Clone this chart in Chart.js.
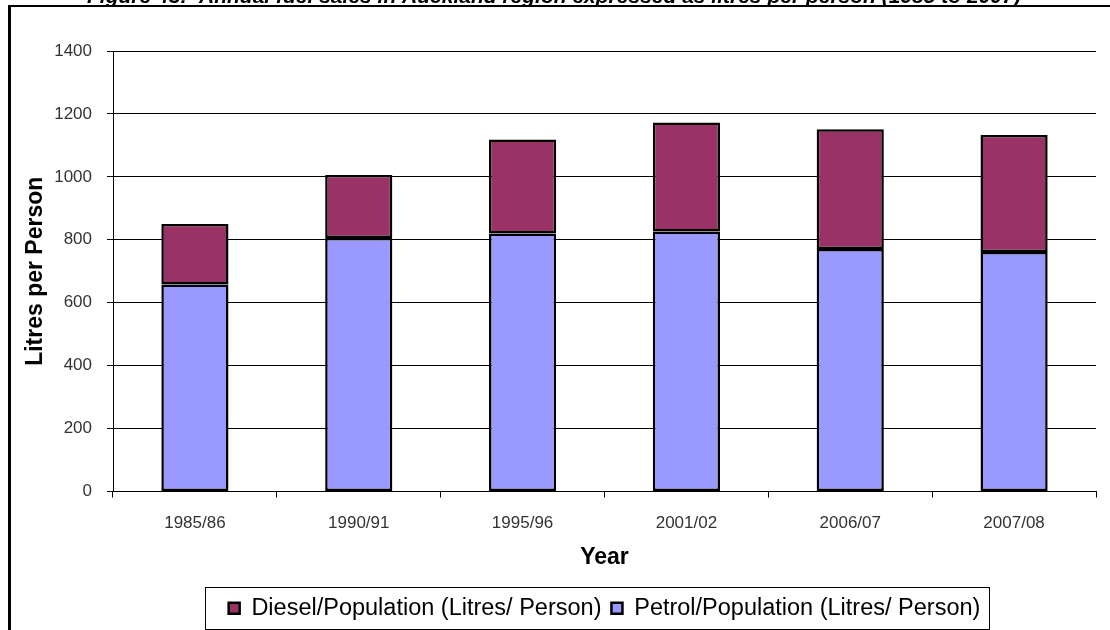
<!DOCTYPE html>
<html>
<head>
<meta charset="utf-8">
<script src="https://cdn.jsdelivr.net/npm/chart.js@4.4.1/dist/chart.umd.min.js"></script>
<style>
  html, body { margin: 0; padding: 0; background: #fff; overflow: hidden; }
  #wrap { position: relative; width: 1110px; height: 630px; }
</style>
</head>
<body>
<div id="wrap"><canvas id="fuelChart" width="1110" height="630"></canvas></div>
<script>
const years = ['1985/86', '1990/91', '1995/96', '2001/02', '2006/07', '2007/08'];
const petrolPerPerson = [658, 806, 820, 826, 771, 761];
const dieselPerPerson = [192, 200, 299, 347, 380, 372];
const yTicks = [0, 200, 400, 600, 800, 1000, 1200, 1400];

const FONT = '"Liberation Sans", Arial, sans-serif';

// frame around the figure plus the caption sitting above it
const framePlugin = {
  id: 'frame',
  beforeDraw(chart) {
    const ctx = chart.ctx;
    ctx.save();
    ctx.fillStyle = '#fff';
    ctx.fillRect(0, 0, chart.width, chart.height);
    ctx.fillStyle = '#000';
    ctx.fillRect(8, 5, 3, chart.height);
    ctx.fillRect(8, 5, chart.width, 2);
    ctx.font = 'bold italic 21px ' + FONT;
    ctx.textBaseline = 'alphabetic';
    ctx.fillText('Figure 43:  Annual fuel sales in Auckland region expressed as litres per person (1985 to 2007)', 87, 3);
    ctx.restore();
  }
};

// thin box drawn round the legend entries
const legendBox = {
  id: 'legendBox',
  afterDraw(chart) {
    const boxes = chart.legend.legendHitBoxes;
    if (!boxes || !boxes.length) return;
    const left = Math.min(...boxes.map(b => b.left)) - 24;
    const right = Math.max(...boxes.map(b => b.left + b.width)) + 8;
    const mid = boxes[0].top + boxes[0].height / 2;
    const ctx = chart.ctx;
    ctx.save();
    ctx.strokeStyle = '#000';
    ctx.lineWidth = 1;
    ctx.strokeRect(Math.round(left) + 0.5, Math.round(mid - 21) + 0.5, Math.round(right - left), 42);
    ctx.restore();
  }
};

new Chart(document.getElementById('fuelChart'), {
  type: 'bar',
  data: {
    labels: years,
    datasets: [{
      label: 'Petrol/Population (Litres/ Person)',
      data: petrolPerPerson,
      backgroundColor: '#9999ff',
      borderColor: '#000',
      borderWidth: 2.5,
      borderSkipped: false,
      barPercentage: 0.41,
      categoryPercentage: 1
    }, {
      label: 'Diesel/Population (Litres/ Person)',
      data: dieselPerPerson,
      backgroundColor: '#993366',
      borderColor: '#000',
      borderWidth: 2.5,
      borderSkipped: false,
      barPercentage: 0.41,
      categoryPercentage: 1
    }]
  },
  options: {
    responsive: false,
    animation: false,
    layout: { padding: { left: 22, right: 14, top: 51, bottom: 0 } },
    plugins: {
      tooltip: { enabled: false },
      legend: {
        position: 'bottom',
        fullSize: false,
        reverse: true,
        labels: {
          color: '#000',
          font: { family: FONT, size: 23.5 },
          boxWidth: 11,
          boxHeight: 11,
          padding: 10,
          useBorderRadius: false
        }
      }
    },
    scales: {
      x: {
        stacked: true,
        grid: { display: true, offset: true, drawOnChartArea: false, color: '#000', tickLength: 6 },
        border: { color: '#000', width: 1 },
        ticks: { color: '#333', font: { family: FONT, size: 17 }, padding: 16, maxRotation: 0 },
        title: { display: true, text: 'Year', color: '#000', font: { family: FONT, size: 23, weight: 'bold' }, padding: { top: 6, bottom: 15 } },
        afterFit(scale) { scale.height = 95; }
      },
      y: {
        stacked: true,
        min: 0,
        max: 1400,
        afterBuildTicks(scale) { scale.ticks = yTicks.map(v => ({ value: v })); },
        grid: { color: '#000', tickLength: 6 },
        border: { color: '#000', width: 1 },
        ticks: { color: '#333', font: { family: FONT, size: 17 }, padding: 15, callback: v => String(v) },
        title: { display: true, text: 'Litres per Person', color: '#000', font: { family: FONT, size: 23, weight: 'bold' }, padding: { top: 0, bottom: 8 } },
        afterFit(scale) { scale.width = 91; }
      }
    }
  },
  plugins: [framePlugin, legendBox]
});
</script>
</body>
</html>
